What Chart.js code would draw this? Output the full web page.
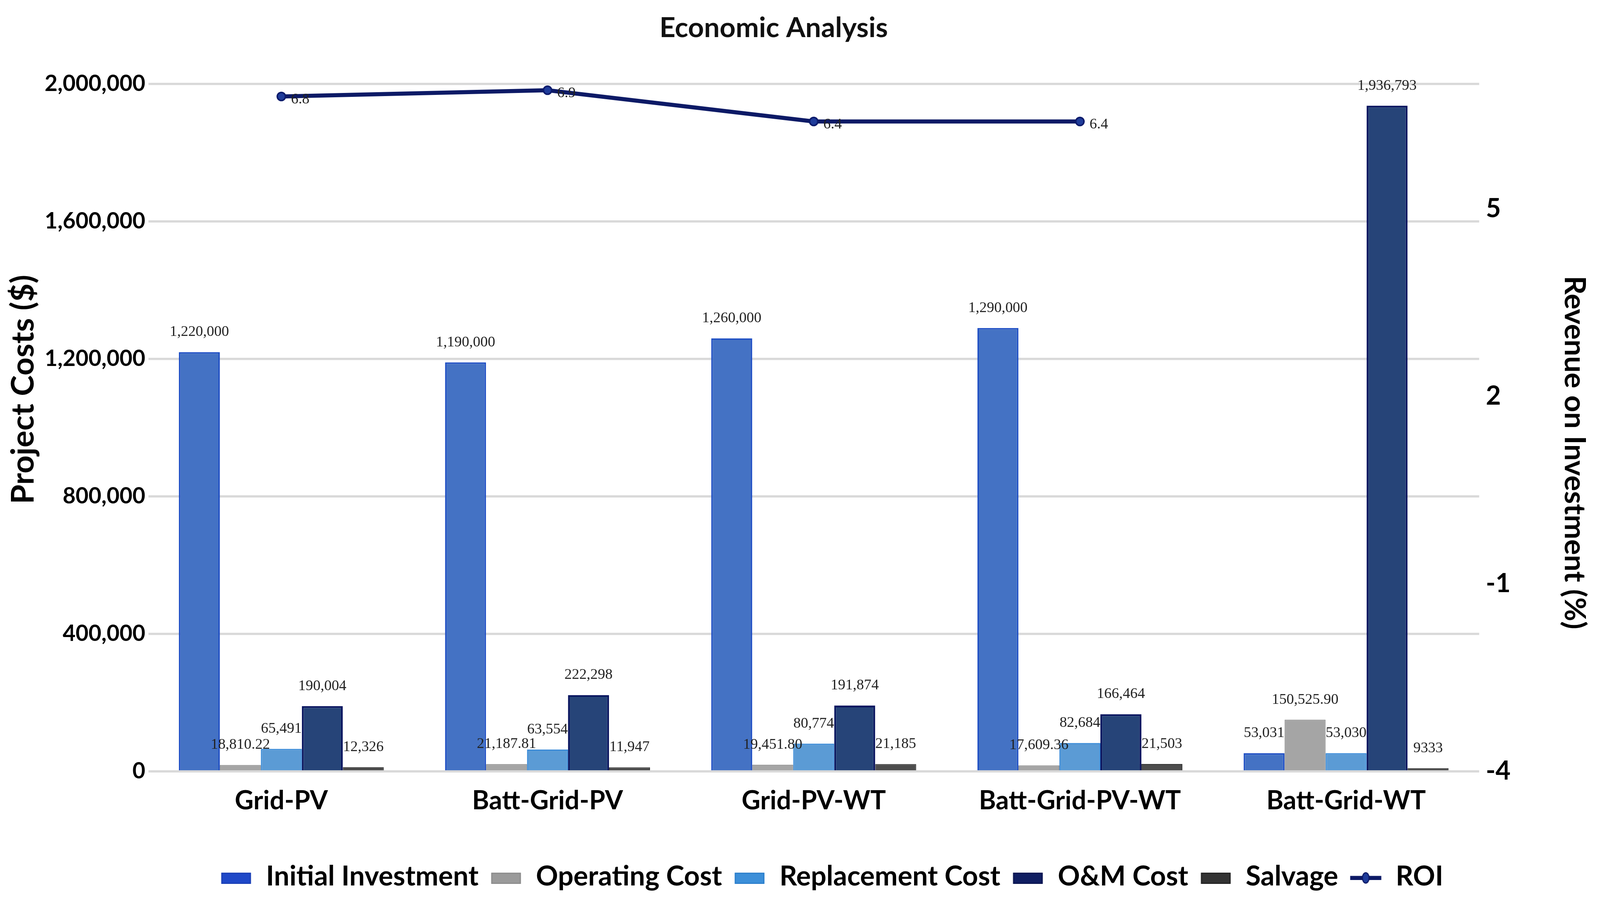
<!DOCTYPE html>
<html lang="en">
  <head>
    <meta charset="UTF-8" />
    <title>Economic Analysis</title>
    <script src="https://cdn.jsdelivr.net/npm/chart.js"></script>
    <style>
      html, body { margin: 0; padding: 0; background: #fff; overflow: hidden; }
      canvas { display: block; }
    </style>
  </head>
  <body>
    <canvas id="grafico"></canvas>

<script>
  // categorias e valores
  const sistemas = ["Grid-PV", "Batt-Grid-PV", "Grid-PV-WT", "Batt-Grid-PV-WT", "Batt-Grid-WT"];

  const initialInvestment = [1220000, 1190000, 1260000, 1290000, 53031];
  const operatingCost = [18810.22, 21187.81, 19451.80, 17609.36, 150525.90];
  const replacementCost = [65491, 63554, 80774, 82684, 53030];
  const omCost = [190004, 222298, 191874, 166464, 1936793];
  const salvage = [12326, 11947, 21185, 21503, 9333];
  const roi = [6.8, 6.9, 6.4, 6.4, null];

  // textos dos rotulos como aparecem no grafico
  const initialText = ["1,220,000", "1,190,000", "1,260,000", "1,290,000", "53,031"];
  const operatingText = ["18,810.22", "21,187.81", "19,451.80", "17,609.36", "150,525.90"];
  const replacementText = ["65,491", "63,554", "80,774", "82,684", "53,030"];
  const omText = ["190,004", "222,298", "191,874", "166,464", "1,936,793"];
  const salvageText = ["12,326", "11,947", "21,185", "21,503", "9333"];
  const roiText = ["6.8", "6.9", "6.4", "6.4", ""];

  const custoTicks = [0, 400000, 800000, 1200000, 1600000, 2000000];
  const roiTicks = [-4, -1, 2, 5];

  // medidas tiradas numa tela de 4317 x 2317; kx e ky ajustam a janela real
  const W = window.innerWidth;
  const H = window.innerHeight;
  const kx = W / 4317;
  const ky = H / 2317;
  function px(v) { return v * kx; }
  function py(v) { return v * ky; }

  const canvas = document.getElementById("grafico");
  canvas.width = W;
  canvas.height = H;

  // tamanhos que dependem um do outro (titulo, eixo x, legenda)
  const tamTitulo = px(75);
  const tamLegenda = px(74);
  const padLegenda = px(30);
  const padTituloTopo = py(72) - tamTitulo * 0.6;
  const padTituloBaixo = py(215) - padTituloTopo - tamTitulo * 1.2;
  const topoLegenda = py(2244) - padLegenda - tamLegenda / 2;
  const alturaEixoX = topoLegenda - py(1975);
  const padBaixo = H - topoLegenda - (tamLegenda + padLegenda + 10);

  // marcador da legenda desenhado num canvas pequeno
  function marcador(fill, stroke, tipo) {
    const c = document.createElement("canvas");
    c.width = Math.round(px(88)); c.height = Math.round(px(44));
    const g = c.getContext("2d");
    g.scale(kx, kx);
    if (tipo === "line") {
      g.strokeStyle = stroke; g.lineWidth = 11;
      g.beginPath(); g.moveTo(2, 26); g.lineTo(86, 26); g.stroke();
      g.fillStyle = fill; g.strokeStyle = stroke; g.lineWidth = 3;
      g.beginPath(); g.ellipse(44, 26, 9, 14, 0, 0, Math.PI * 2); g.fill(); g.stroke();
    } else {
      g.fillStyle = fill;
      g.fillRect(4, 12, 80, 30);
      g.strokeStyle = stroke; g.lineWidth = 3;
      g.strokeRect(5.5, 13.5, 77, 27);
    }
    return c;
  }

  const rotulos = {
    id: "rotulos",
    afterLayout(chart) {
      // titulo um pouco para a esquerda e legenda um pouco para a direita, como na figura
      chart.titleBlock.left -= px(71);
      chart.titleBlock.right -= px(71);
      chart.legend.left += px(85);
      chart.legend.right += px(85);
    },
    afterDatasetsDraw(chart) {
      const ctx = chart.ctx;
      ctx.save();
      ctx.font = px(40) + 'px "Liberation Serif"';
      ctx.fillStyle = "#222";
      chart.data.datasets.forEach(function (ds, i) {
        const meta = chart.getDatasetMeta(i);
        meta.data.forEach(function (el, j) {
          const txt = ds.textos[j];
          if (!txt) return;
          if (ds.type === "line") {
            ctx.textAlign = "left";
            ctx.textBaseline = "middle";
            ctx.fillText(txt, el.x + px(26), el.y + py(8));
          } else {
            ctx.textAlign = "center";
            ctx.textBaseline = "bottom";
            ctx.fillText(txt, el.x, el.y - py(32));
          }
        });
      });
      ctx.restore();
    }
  };

  const data = {
    labels: sistemas,
    datasets: [
      {
        label: "Initial Investment",
        data: initialInvestment,
        textos: initialText,
        backgroundColor: "#4472C4",
        borderColor: "#1F4FC4",
        borderWidth: px(4),
        yAxisID: "y",
        legendMark: marcador("#1F48C8", "#1A3FB5")
      },
      {
        label: "Operating Cost",
        data: operatingCost,
        textos: operatingText,
        backgroundColor: "#A5A5A5",
        borderColor: "#8C8C8C",
        borderWidth: px(2),
        yAxisID: "y",
        legendMark: marcador("#9A9A9A", "#8C8C8C")
      },
      {
        label: "Replacement Cost",
        data: replacementCost,
        textos: replacementText,
        backgroundColor: "#5B9BD5",
        borderColor: "#3A8BD8",
        borderWidth: px(3),
        yAxisID: "y",
        legendMark: marcador("#3C8FD9", "#2C7FCC")
      },
      {
        label: "O&M Cost",
        data: omCost,
        textos: omText,
        backgroundColor: "#264478",
        borderColor: "#0A1660",
        borderWidth: px(5),
        yAxisID: "y",
        legendMark: marcador("#101E62", "#0A1450")
      },
      {
        label: "Salvage",
        data: salvage,
        textos: salvageText,
        backgroundColor: "#4D4D4D",
        borderColor: "#333333",
        borderWidth: px(2),
        yAxisID: "y",
        legendMark: marcador("#333333", "#222222")
      },
      {
        type: "line",
        label: "ROI",
        data: roi,
        textos: roiText,
        borderColor: "#0D1A66",
        backgroundColor: "#1F3C9A",
        borderWidth: px(11),
        pointRadius: px(11),
        pointBorderWidth: px(4),
        pointBackgroundColor: "#1F3C9A",
        pointBorderColor: "#0B1A6B",
        tension: 0,
        spanGaps: false,
        yAxisID: "y2",
        legendMark: marcador("#1F3C9A", "#0D1A66", "line")
      }
    ]
  };

  const config = {
    type: "bar",
    data: data,
    plugins: [rotulos],
    options: {
      responsive: false,
      animation: false,
      layout: { padding: { left: 0, right: 0, top: 0, bottom: padBaixo } },
      datasets: {
        bar: { categoryPercentage: 0.77, barPercentage: 1.0 }
      },
      plugins: {
        tooltip: { enabled: false },
        title: {
          display: true,
          text: "Economic Analysis",
          color: "#111",
          font: { family: "Lato", size: tamTitulo, weight: "bold" },
          padding: { top: padTituloTopo, bottom: padTituloBaixo }
        },
        legend: {
          position: "bottom",
          labels: {
            color: "#111",
            font: { family: "Lato", size: tamLegenda, weight: "bold" },
            padding: padLegenda,
            usePointStyle: true,
            pointStyleWidth: px(88),
            generateLabels: function (chart) {
              return chart.data.datasets.map(function (ds, i) {
                return {
                  text: ds.label,
                  pointStyle: ds.legendMark,
                  fillStyle: ds.backgroundColor,
                  strokeStyle: ds.borderColor,
                  lineWidth: 0,
                  hidden: false,
                  datasetIndex: i
                };
              });
            }
          }
        }
      },
      scales: {
        x: {
          grid: { display: false },
          border: { display: false },
          ticks: {
            color: "#000",
            padding: py(28),
            font: { family: "Lato", size: px(70), weight: "bold" }
          },
          afterFit: function (scale) { scale.height = alturaEixoX; }
        },
        y: {
          position: "left",
          min: 0,
          max: 2000000,
          grid: { color: "#D9D9D9", lineWidth: px(6), drawTicks: false },
          border: { display: false },
          afterBuildTicks: function (scale) {
            scale.ticks = custoTicks.map(function (v) { return { value: v }; });
          },
          ticks: {
            color: "#000",
            padding: px(8),
            font: { family: "Lato", size: px(60), weight: "bold" },
            callback: function (v) { return v.toLocaleString("en-US"); }
          },
          title: {
            display: true,
            text: "          Project Costs ($)",
            color: "#000",
            font: { family: "Lato", size: px(85), weight: "bold" },
            padding: { top: px(12), bottom: 0 }
          },
          afterFit: function (scale) { scale.width = px(400); }
        },
        y2: {
          position: "right",
          min: -4,
          max: 7,
          grid: { display: false, drawTicks: false },
          border: { display: false },
          afterBuildTicks: function (scale) {
            scale.ticks = roiTicks.map(function (v) { return { value: v }; });
          },
          ticks: {
            color: "#000",
            padding: px(18),
            font: { family: "Lato", size: px(70), weight: "bold" }
          },
          title: {
            display: true,
            text: "       Revenue on Investment (%)",
            color: "#000",
            font: { family: "Lato", size: px(79), weight: "bold" },
            padding: { top: px(22), bottom: 0 }
          },
          afterFit: function (scale) { scale.width = px(326); }
        }
      }
    }
  };

  const graficoEconomico = new Chart(canvas, config);
</script>
  </body>
</html>
